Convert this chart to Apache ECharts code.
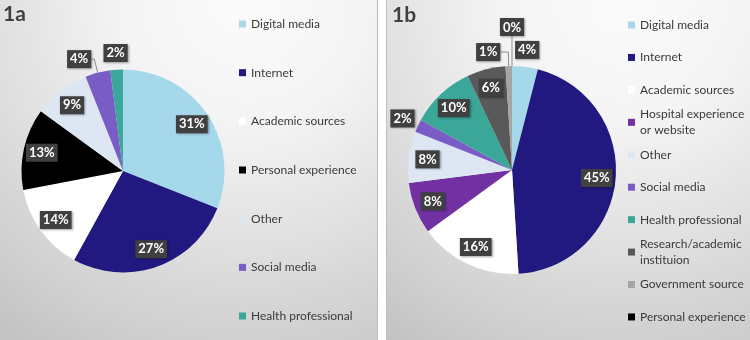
<!DOCTYPE html>
<html><head><meta charset="utf-8">
<script src="https://cdn.jsdelivr.net/npm/echarts@6/dist/echarts.min.js"></script>
<style>html,body{margin:0;padding:0;background:#fff}#c{width:750px;height:340px}</style>
</head><body><div id="c"></div>
<script>
// ---- data ----
const namesA = ['Digital media','Internet','Academic sources','Personal experience','Other','Social media','Health professional'];
const valuesA = [31, 27, 14, 13, 9, 4, 2];
const namesB = ['Digital media','Internet','Academic sources','Hospital experience\nor website','Other','Social media','Health professional','Research/academic\ninstituion','Government source','Personal experience'];
const valuesB = [4, 45, 16, 8, 8, 2, 10, 6, 1, 0];
const titleA = '1a';
const titleB = '1b';

// ---- styles ----
const colors = {
  'Digital media':'#a6d8eb','Internet':'#21197f','Academic sources':'#ffffff','Personal experience':'#000000',
  'Other':'#dde7f3','Social media':'#7a5cc6','Health professional':'#3ba799',
  'Hospital experience\nor website':'#7231a2','Research/academic\ninstituion':'#595959','Government source':'#a5a5a5'
};
// label placement: in = inside slice, near = just outside, lead = outside with leader line
const placeA = ['in','in','in','in','in','lead','near'];
const placeB = ['near','in','in','in','in','near','in','in','lead','lead'];
const leadA = {5:{length:14,length2:3}};
const leadB = {8:{length:14,length2:8}, 9:{length:30,length2:0}};

const FONT = 'Lato';
const boxLabel = {
  formatter: '{c}%', color:'#ffffff', fontFamily:FONT, fontWeight:'bold', fontSize:13,
  backgroundColor:'#404040', padding:[3,3,2,3],
  shadowColor:'rgba(0,0,0,0.35)', shadowBlur:2, shadowOffsetX:1, shadowOffsetY:1
};

function panel(names, values, place, lead, cx, cy, r) {
  const main = {
    type:'pie', center:[cx,cy], radius:r, startAngle:90, clockwise:true, avoidLabelOverlap:false, z:2,
    emphasis:{disabled:true},
    labelLine:{lineStyle:{color:'#8c8c8c', width:1}},
    labelLayout: function(p){
      if (p.dataIndex === 9 && names.length === 10 && p.labelLinePoints) {
        const q = p.labelLinePoints[1];
        return {x:q[0], y:q[1], align:'center', verticalAlign:'bottom'};
      }
    },
    data: names.map((n,i)=>({
      name:n, value:values[i], itemStyle:{color:colors[n]},
      label: place[i]==='lead' ? Object.assign({show:true, position:'outside', distanceToLabelLine:0}, boxLabel) : {show:false},
      labelLine: place[i]==='lead' ? Object.assign({show:true}, lead[i]) : {show:false}
    }))
  };
  const ring = (inner, outer, kind) => ({
    type:'pie', center:[cx,cy], radius:[inner,outer], startAngle:90, clockwise:true, silent:true,
    avoidLabelOverlap:false, z:3, legendHoverLink:false, emphasis:{disabled:true},
    itemStyle:{color:'rgba(0,0,0,0)'}, labelLine:{show:false},
    label: Object.assign({position:'inside'}, boxLabel),
    data: names.map((n,i)=>({name:n, value:values[i], label:{show: place[i]===kind}}))
  });
  return [main, ring(r*0.58, r, 'in'), ring(r, r*1.27, 'near')];
}

function legends(names, iconX, y0, pitch) {
  return names.map((n,i)=>{
    const two = n.indexOf('\n') >= 0;
    return {
      left: iconX, top: y0 + i*pitch - (two ? 24 : 8), padding:0, orient:'vertical',
      selectedMode:false, icon:'rect', itemWidth:7, itemHeight:7,
      textStyle:{fontFamily:FONT, fontSize:12, color:'#3a3a3a', lineHeight:16},
      data:[{name:n, itemStyle:{color:colors[n]}, textStyle: two ? {padding:[16,0,0,0]} : {}}]
    };
  });
}

function bg(x, w) {
  return {
    type:'rect', z:-10, shape:{x:x, y:-1, width:w, height:342},
    style:{
      fill: new echarts.graphic.RadialGradient(0.65, 0.0, 1.2, [
        {offset:0, color:'#fbfbfb'}, {offset:0.3, color:'#f4f4f4'},
        {offset:0.6, color:'#e0e0e0'}, {offset:0.87, color:'#cdcdcd'}, {offset:1, color:'#c3c3c3'}
      ]),
      stroke:'#bdbdbd', lineWidth:1
    }
  };
}

const chart = echarts.init(document.getElementById('c'), null, {renderer:'canvas'});
chart.setOption({
  animation:false,
  backgroundColor:'#ffffff',
  graphic:{elements:[bg(-1, 378.5), bg(386.5, 365)]},
  title:[
    {text:titleA, left:3, top:4, padding:0, textStyle:{fontFamily:FONT, fontWeight:'bold', fontSize:21, color:'#404040'}},
    {text:titleB, left:392, top:5, padding:0, textStyle:{fontFamily:FONT, fontWeight:'bold', fontSize:21, color:'#404040'}}
  ],
  legend: legends(namesA, 239, 24, 48.67).concat(legends(namesB, 628, 25, 32.44)),
  series: panel(namesA, valuesA, placeA, leadA, 123, 171, 101.5)
    .concat(panel(namesB, valuesB, placeB, leadB, 512, 170, 104))
});
</script></body></html>
